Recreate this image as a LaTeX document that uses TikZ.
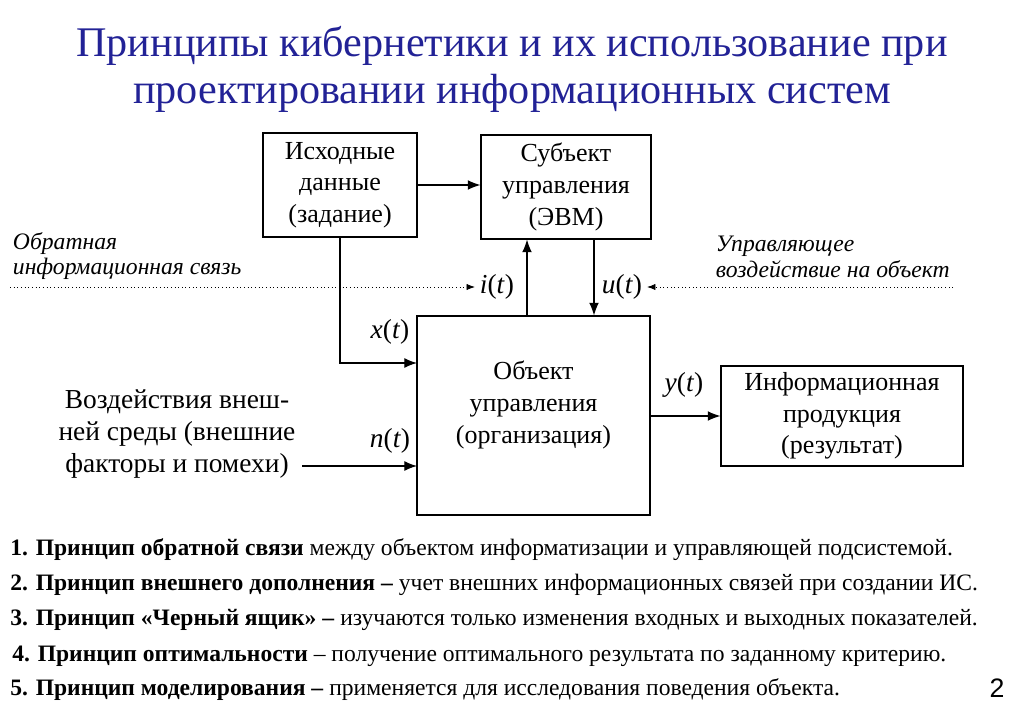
\documentclass[tikz,border=0pt]{standalone}
\usepackage{fontspec}
\setmainfont{Liberation Serif}
\newfontfamily\pagefont{Liberation Sans}
\usepackage{xcolor}
\usepackage{tikz}
\usetikzlibrary{arrows.meta}
\definecolor{titleblue}{RGB}{34,34,150}

\begin{document}
\begin{tikzpicture}[x=0.025cm,y=-0.025cm,
  box/.style={draw,line width=0.8pt,align=center,inner sep=0pt,font=\fontsize{18.5}{22.5}\selectfont},
  lbl/.style={font=\fontsize{19.5}{22}\selectfont},
  flow/.style={line width=0.8pt,-{Latex[length=9pt,width=7pt]}},
  fb/.style={line width=0.6pt,dotted,-{Latex[length=6pt,width=4.5pt]}},
  note/.style={anchor=west,align=left,font=\fontsize{16.8}{18}\selectfont\itshape},
  rule/.style={anchor=west,inner sep=0pt,font=\fontsize{16.75}{20}\selectfont}]
\useasboundingbox (0,0) rectangle (1024,708);
% title
\node[titleblue,align=center,font=\fontsize{30}{33.5}\selectfont] (title) at (512,69)
  {Принципы кибернетики и их использование при\\проектировании информационных систем};
% blocks
\node[box,minimum width=3.85cm,minimum height=2.6cm] (src) at (340,185) {Исходные\\данные\\(задание)};
\node[box,minimum width=4.25cm,minimum height=2.6cm] (cpu) at (566,187) {Субъект\\управления\\(ЭВМ)};
\node[box,minimum width=5.825cm,minimum height=4.975cm] (obj) at (533.5,415.5) {};
\node[align=center,font=\fontsize{18.5}{22.5}\selectfont] (objtext) at (533.5,405) {Объект\\управления\\(организация)};
\node[box,minimum width=6.05cm,minimum height=2.5cm] (res) at (842,416) {Информационная\\продукция\\(результат)};
\node[align=center,font=\fontsize{19.5}{22.7}\selectfont] (env) at (177,434) {Воздействия внеш-\\ней среды (внешние\\факторы и помехи)};
% signals
\node[lbl] (xlbl) at (390,332) {\textit{x}(\textit{t})};
\node[lbl] (nlbl) at (390,441) {\textit{n}(\textit{t})};
\node[lbl] (ilbl) at (497,287) {\textit{i}(\textit{t})};
\node[lbl] (ulbl) at (622,287) {\textit{u}(\textit{t})};
\node[lbl] (ylbl) at (684,385) {\textit{y}(\textit{t})};
\node[note] (fbnote) at (8,256) {Обратная\\информационная связь};
\node[note] (ctlnote) at (711,257) {Управляющее\\воздействие на объект};
\coordinate (ix) at (527,0);
\coordinate (ux) at (594,0);
\coordinate (xin) at (417,363);
\coordinate (nout) at (302,466);
\coordinate (nin) at (417,466);
\coordinate (fbL) at (10,287);
\coordinate (fbR) at (953,287);
\draw[flow] (src.east) -- (cpu.west |- src.east);
\draw[flow] (src.south) |- (xin);
\draw[flow] (nout) -- (nin);
\draw[flow] (obj.north -| ix) -- (cpu.south -| ix);
\draw[flow] (cpu.south -| ux) -- (obj.north -| ux);
\draw[flow] (obj.east |- res.west) -- (res.west);
\draw[fb] (fbL) -- (ilbl.west);
\draw[fb] (fbR) -- (ulbl.east);
% principles
\node[rule] (p1) at (10,550) {\textbf{1. Принцип обратной связи} между объектом информатизации и управляющей подсистемой.};
\node[rule] (p2) at (10,585) {\textbf{2. Принцип внешнего дополнения –} учет внешних информационных связей при создании ИС.};
\node[rule] (p3) at (10,620) {\textbf{3. Принцип «Черный ящик» –} изучаются только изменения входных и выходных показателей.};
\node[rule] (p4) at (12,656) {\textbf{4. Принцип оптимальности} – получение оптимального результата по заданному критерию.};
\node[rule] (p5) at (10,690) {\textbf{5. Принцип моделирования –} применяется для исследования поведения объекта.};
\node[font=\pagefont\fontsize{19}{21}\selectfont] (page) at (997,688) {2};
\end{tikzpicture}
\end{document}
